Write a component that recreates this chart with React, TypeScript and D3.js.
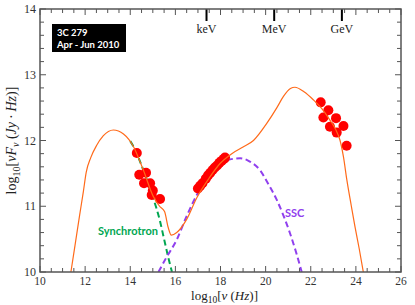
import React from "react";
import * as d3 from "d3";

// total SED model (log10 nu, log10 nuFnu)
const totalModel: [number, number][] = [
  [11.37, 10], [11.55, 10.4], [11.75, 10.85], [11.92, 11.22], [12.05, 11.52],
  [12.25, 11.74], [12.5, 11.92], [12.8, 12.07], [13.25, 12.16], [13.7, 12.1],
  [14.14, 11.91], [14.58, 11.55], [15.02, 11.15], [15.3, 11.0], [15.52, 10.92],
  [15.68, 10.68], [15.82, 10.56], [16.06, 10.6], [16.5, 10.8], [16.95, 11.13],
  [17.5, 11.43], [17.98, 11.65], [18.5, 11.8], [19.0, 11.9], [19.46, 12.0],
  [20.05, 12.26], [20.5, 12.5], [20.79, 12.67], [21.1, 12.79], [21.3, 12.81],
  [21.7, 12.74], [22.11, 12.62], [22.5, 12.48], [22.85, 12.31], [23.1, 12.17],
  [23.3, 12.0], [23.45, 11.75], [23.6, 11.4], [23.8, 11.0], [23.96, 10.69],
  [24.15, 10.35], [24.33, 10.0],
];

const synchrotron: [number, number][] = [
  [14.0, 11.99], [14.14, 11.91], [14.58, 11.55], [15.02, 11.12], [15.3, 10.8],
  [15.5, 10.5], [15.7, 10.2], [15.85, 10.0],
];

const ssc: [number, number][] = [
  [15.25, 10], [15.6, 10.22], [16.06, 10.49], [16.5, 10.85], [16.95, 11.17],
  [17.4, 11.42], [17.83, 11.6], [18.3, 11.7], [18.87, 11.73], [19.3, 11.68],
  [19.75, 11.55], [20.1, 11.35], [20.49, 11.1], [20.8, 10.85], [21.08, 10.59],
  [21.35, 10.3], [21.6, 10.0],
];

const optical: [number, number][] = [
  [14.29, 11.81], [14.4, 11.48], [14.7, 11.51], [14.61, 11.35], [14.88, 11.35],
  [15.0, 11.24], [14.95, 11.17], [15.32, 11.11],
];

const xray: [number, number][] = [
  [17.0, 11.27], [17.1, 11.31], [17.2, 11.35], [17.35, 11.42], [17.45, 11.47],
  [17.55, 11.51], [17.65, 11.55], [17.75, 11.59], [17.85, 11.62], [17.95, 11.66],
  [18.05, 11.69], [18.15, 11.72], [18.2, 11.74],
];

const gamma: [number, number][] = [
  [22.44, 12.58], [22.78, 12.46], [22.56, 12.35], [23.12, 12.34], [22.85, 12.21],
  [23.15, 12.12], [23.45, 12.22], [23.59, 11.92],
];

const energyMarks = [
  { label: "keV", x: 17.38 },
  { label: "MeV", x: 20.38 },
  { label: "GeV", x: 23.38 },
];

const xTicks = d3.range(10, 26.01, 2);
const yTicks = d3.range(10, 14.01, 1);

export default function App() {
  const margin = { top: 9, right: 14, bottom: 33, left: 40 };
  const width = 415;
  const height = 305;

  const x = d3.scaleLinear().domain([10, 26]).range([margin.left, width - margin.right]);
  const y = d3.scaleLinear().domain([10, 14]).range([height - margin.bottom, margin.top]);

  const line = d3.line<[number, number]>()
    .x(d => x(d[0]))
    .y(d => y(d[1]))
    .curve(d3.curveMonotoneX);

  const xMinor = d3.range(10, 26.01, 0.5);
  const yMinor = d3.range(10, 14.001, 0.2);
  const x0 = x.range()[0], x1 = x.range()[1];
  const y0 = y.range()[0], y1 = y.range()[1];
  const frame = "#555";
  const serif = "'Liberation Serif', 'DejaVu Serif', serif";

  return (
    <svg width={width} height={height} style={{ position: "absolute", left: 0, top: 0 }}
      fontFamily={serif}>
      <defs>
        <clipPath id="plot">
          <rect x={x0} y={y1} width={x1 - x0} height={y0 - y1} />
        </clipPath>
      </defs>
      <rect width={width} height={height} fill="#fff" />

      {/* ticks */}
      <g stroke={frame} strokeWidth={1}>
        {xMinor.map((t, i) => {
          const major = Math.abs(t % 2) < 1e-6;
          const len = major ? 6 : 4;
          return (
            <g key={"x" + i}>
              <line x1={x(t)} x2={x(t)} y1={y0} y2={y0 - len} />
              <line x1={x(t)} x2={x(t)} y1={y1} y2={y1 + len} />
            </g>
          );
        })}
        {yMinor.map((t, i) => {
          const major = Math.abs(t - Math.round(t)) < 1e-6;
          const len = major ? 6 : 4;
          return (
            <g key={"y" + i}>
              <line x1={x0} x2={x0 + len} y1={y(t)} y2={y(t)} />
              <line x1={x1} x2={x1 - len} y1={y(t)} y2={y(t)} />
            </g>
          );
        })}
      </g>

      {/* energy markers */}
      {energyMarks.map(m => (
        <g key={m.label}>
          <line x1={x(m.x)} x2={x(m.x)} y1={y1} y2={y1 + 12} stroke="#000" strokeWidth={2} />
          <text x={x(m.x)} y={y1 + 24} textAnchor="middle" fontSize={12} fill="#222">{m.label}</text>
        </g>
      ))}

      {/* model curves */}
      <g clipPath="url(#plot)" fill="none">
        <path d={line(synchrotron) || ""} stroke="#00a651" strokeWidth={2} strokeDasharray="6,3.5" />
        <path d={line(ssc) || ""} stroke="#9040ee" strokeWidth={2} strokeDasharray="6,3.5" />
        {[...optical, ...xray, ...gamma].map((d, i) => (
          <circle key={i} cx={x(d[0])} cy={y(d[1])} r={5} fill="#ff0000" stroke="none" />
        ))}
        <path d={line(totalModel) || ""} stroke="#ff6a1a" strokeWidth={1.2} />
      </g>

      {/* frame */}
      <rect x={x0} y={y1} width={x1 - x0} height={y0 - y1} fill="none" stroke={frame} strokeWidth={1.5} />

      {/* tick labels */}
      {xTicks.map(t => (
        <text key={"xl" + t} x={x(t)} y={y0 + 13} textAnchor="middle" fontSize={11.5} fill="#333">{t}</text>
      ))}
      {yTicks.map(t => (
        <text key={"yl" + t} x={x0 - 4} y={y(t) + 4} textAnchor="end" fontSize={12} fill="#333">{t}</text>
      ))}

      {/* axis titles */}
      <text x={(x0 + x1) / 2 + 4} y={height - 5} textAnchor="middle" fontSize={13} fill="#222">
        log<tspan fontSize={9.5} dy={3}>10</tspan><tspan dy={-3}>[</tspan>
        <tspan fontStyle="italic">ν</tspan> (<tspan fontStyle="italic">Hz</tspan>)]
      </text>
      <text transform={`translate(16,${(y0 + y1) / 2}) rotate(-90)`} textAnchor="middle" fontSize={14} fill="#222">
        log<tspan fontSize={10} dy={4}>10</tspan><tspan dy={-4}>[</tspan>
        <tspan fontStyle="italic">νF</tspan><tspan fontStyle="italic" fontSize={10} dy={3}>ν</tspan>
        <tspan dy={-3}> (</tspan><tspan fontStyle="italic">Jy · Hz</tspan>)]
      </text>

      {/* source box */}
      <rect x={52} y={24} width={74} height={28} fill="#000" />
      <g fontFamily="Lato, 'Open Sans', sans-serif" fontWeight="bold" fontSize={9.5} fill="#fff">
        <text x={57} y={36}>3C 279</text>
        <text x={57} y={48}>Apr - Jun 2010</text>
      </g>

      {/* component labels */}
      <text x={98} y={235} fontFamily="Lato, 'Open Sans', sans-serif" fontWeight="bold" fontSize={11} fill="#00a651">Synchrotron</text>
      <text x={285} y={217} fontFamily="Lato, 'Open Sans', sans-serif" fontWeight="bold" fontSize={11} fill="#9040ee">SSC</text>
    </svg>
  );
}
